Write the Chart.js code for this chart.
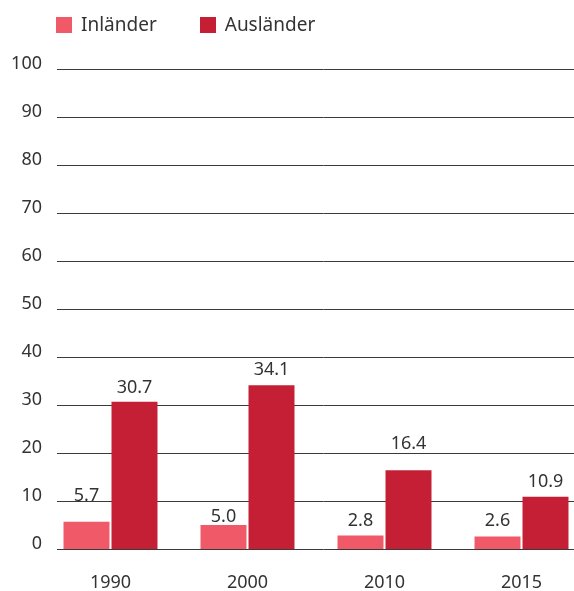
<!DOCTYPE html>
<html>
<head>
<meta charset="utf-8">
<script src="https://cdn.jsdelivr.net/npm/chart.js@4/dist/chart.umd.min.js"></script>
<style>
  html, body { margin: 0; padding: 0; overflow: hidden; background: #fff; }
  #wrap { position: relative; width: 574px; height: 591px; overflow: hidden; }
  #chart { position: absolute; left: 0; top: 0; }
  #legend { position: absolute; left: 56px; top: 11px; font: 19px "Noto Sans", sans-serif; color: #333; white-space: nowrap; }
  #legend span.item { display: inline-block; margin-right: 43px; }
  #legend span.box { display: inline-block; width: 16px; height: 16px; margin-right: 9px; vertical-align: -2px; }
</style>
</head>
<body>
<div id="wrap">
  <canvas id="chart" width="590" height="591"></canvas>
  <div id="legend"></div>
</div>
<script>
'use strict';

var years = ['1990', '2000', '2010', '2015'];
var inlaender = [5.7, 5.0, 2.8, 2.6];
var auslaender = [30.7, 34.1, 16.4, 10.9];
var yTicks = [0, 10, 20, 30, 40, 50, 60, 70, 80, 90, 100];

var seriesNames = ['Inländer', 'Ausländer'];
var seriesColors = ['#f05a68', '#c41f34'];

var FONT = '"Noto Sans", sans-serif';
var TEXT = '#333333';

// gap (px) between bar top and label baseline; the original nudges a few off the gridlines
var labelGaps = [[21, 3, 10, 11], [9, 10, 21, 10]];

var gridLines = {
    id: 'gridLines',
    beforeDatasetsDraw: function (chart) {
        var ctx = chart.ctx, y = chart.scales.y;
        ctx.save();
        ctx.strokeStyle = '#3a3a3a';
        ctx.lineWidth = 1;
        y.ticks.forEach(function (t) {
            var py = Math.round(y.getPixelForValue(t.value)) + 0.5;
            ctx.beginPath();
            ctx.moveTo(57, py);
            ctx.lineTo(chart.width, py);
            ctx.stroke();
        });
        ctx.restore();
    }
};

var valueLabels = {
    id: 'valueLabels',
    afterDatasetsDraw: function (chart) {
        var ctx = chart.ctx;
        ctx.save();
        ctx.font = '18px ' + FONT;
        ctx.fillStyle = TEXT;
        ctx.textAlign = 'center';
        ctx.textBaseline = 'alphabetic';
        chart.data.datasets.forEach(function (ds, i) {
            chart.getDatasetMeta(i).data.forEach(function (bar, j) {
                ctx.fillText(ds.data[j].toFixed(1), bar.x, bar.y - labelGaps[i][j]);
            });
        });
        ctx.restore();
    }
};

var chart = new Chart(document.getElementById('chart'), {
    type: 'bar',
    data: {
        labels: years,
        datasets: [{
            label: seriesNames[0],
            data: inlaender,
            backgroundColor: seriesColors[0]
        }, {
            label: seriesNames[1],
            data: auslaender,
            backgroundColor: seriesColors[1]
        }]
    },
    options: {
        responsive: false,
        animation: false,
        devicePixelRatio: 1,
        categoryPercentage: 0.7007,
        barPercentage: 0.958,
        layout: { padding: { top: 69, left: 0, right: 0, bottom: 0 } },
        plugins: {
            legend: { display: false },
            tooltip: { enabled: false }
        },
        scales: {
            x: {
                grid: { display: false, drawTicks: false },
                border: { display: false },
                ticks: { color: TEXT, font: { family: FONT, size: 18 }, padding: 23 },
                afterFit: function (s) { s.height = 42; }
            },
            y: {
                min: 0,
                max: 100,
                afterBuildTicks: function (s) { s.ticks = yTicks.map(function (v) { return { value: v }; }); },
                grid: { display: false, drawTicks: false },
                border: { display: false },
                ticks: { color: TEXT, font: { family: FONT, size: 18 }, padding: 0, labelOffset: -5 },
                afterFit: function (s) { s.width = 42; }
            }
        }
    },
    plugins: [gridLines, valueLabels]
});

var legend = document.getElementById('legend');
legend.innerHTML = chart.data.datasets.map(function (ds) {
    return '<span class="item"><span class="box" style="background:' + ds.backgroundColor + '"></span>' + ds.label + '</span>';
}).join('');
</script>
</body>
</html>
